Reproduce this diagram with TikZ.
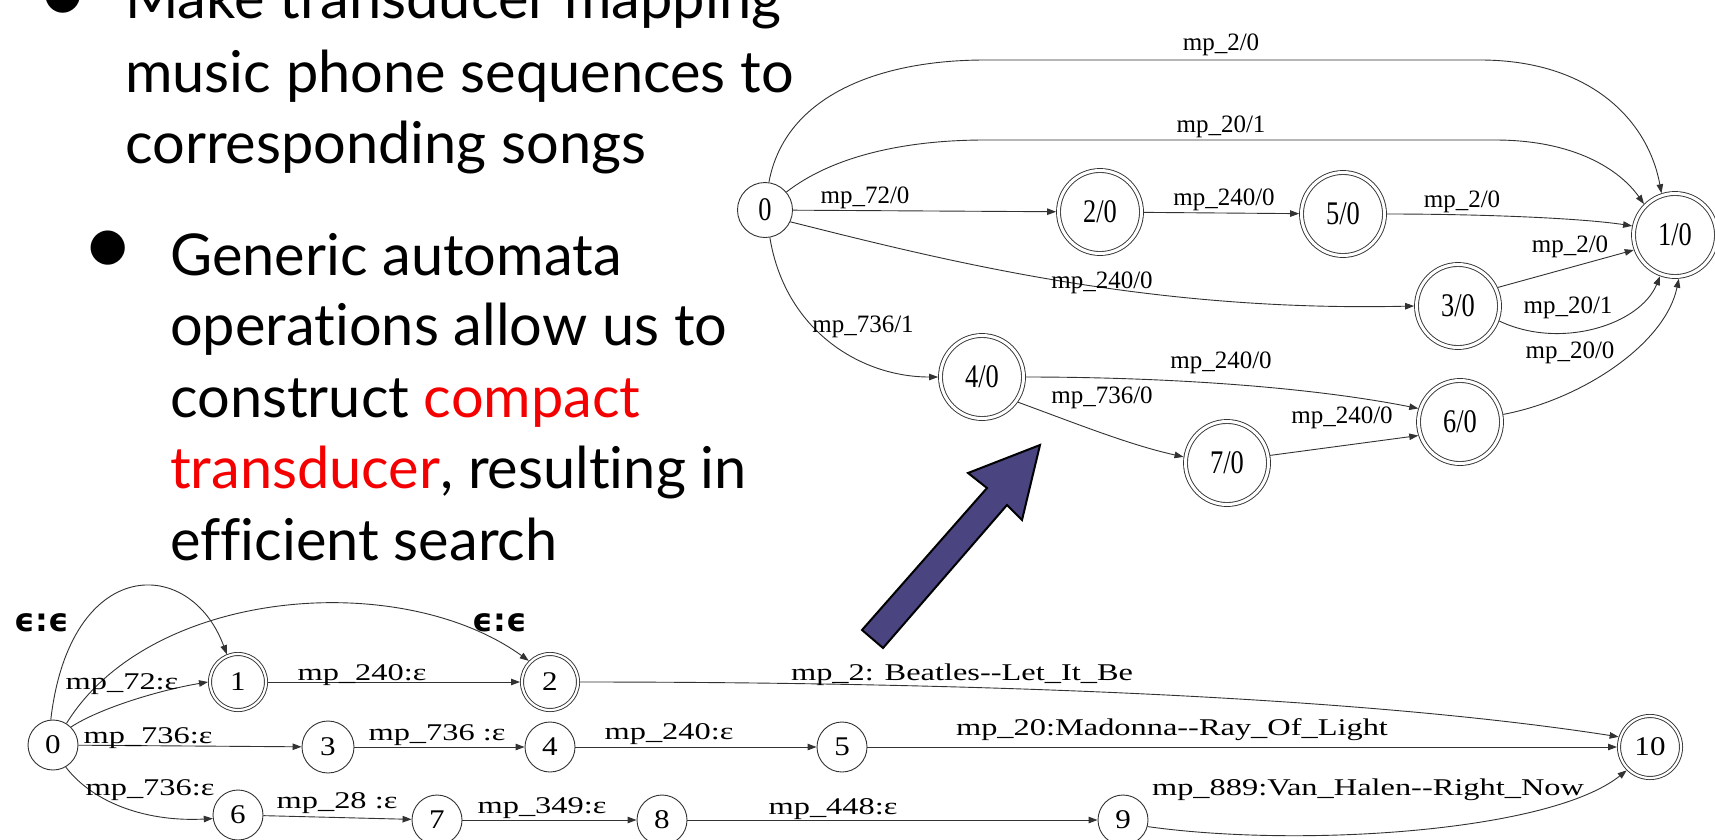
\documentclass[tikz,border=0pt]{standalone}
\usepackage{fontspec}
\usepackage{graphicx}
\setmainfont{Liberation Serif}
\newfontfamily\slidefont{Lato}[Ligatures={NoCommon}]
\newfontfamily\epsfont{DejaVu Sans}
\usetikzlibrary{arrows.meta}
\definecolor{edgecol}{RGB}{50,50,50}
\definecolor{arrowfill}{RGB}{74,68,128}
\definecolor{slidered}{RGB}{245,0,0}
\newcommand\toplab[1]{\scalebox{0.8}[1]{#1}}
\newcommand\botlab[1]{\scalebox{1.35}[1]{#1}}
\newcommand\botnum[1]{\scalebox{1.15}[1]{#1}}
\newcommand\dblhyph{\mbox{-}\mbox{-}}
\begin{document}
\begin{tikzpicture}[x=1pt,y=-1pt,
  tstate/.style={circle,draw=edgecol,line width=0.9pt,fill=white,inner sep=0pt,minimum size=55pt,font=\fontsize{33}{33}\selectfont},
  tacc/.style={tstate,minimum size=83pt,double=white,double distance=3pt,outer sep=2.4pt},
  bstate/.style={circle,draw=edgecol,line width=0.9pt,fill=white,inner sep=0pt,minimum size=50pt,font=\fontsize{27}{27}\selectfont},
  bacc/.style={bstate,minimum size=56pt,double=white,double distance=2.2pt,outer sep=2pt},
  tedge/.style={draw=edgecol,line width=0.9pt,-{Triangle[length=9pt,width=6.5pt]}},
  bedge/.style={draw=edgecol,line width=0.9pt,-{Triangle[length=9pt,width=6.5pt]}},
  tlabel/.style={inner sep=0pt,font=\fontsize{25}{25}\selectfont},
  blabel/.style={inner sep=0pt,font=\fontsize{24}{24}\selectfont},
  epslabel/.style={inner sep=0pt,font=\epsfont\bfseries\fontsize{32}{32}\selectfont},
  slide/.style={anchor=base west,inner sep=0pt,font=\slidefont\fontsize{57.7}{71}\selectfont},
  bullet/.style={anchor=center,inner sep=0pt,font=\slidefont\fontsize{92}{92}\selectfont},
  blockarrow/.style={draw=black,line width=2pt,fill=arrowfill,line join=miter}
]
\useasboundingbox (0,0) rectangle (1715,839);
\clip (0,0) rectangle (1715,839);
\fill[white] (0,0) rectangle (1715,839);

% ---------- slide text ----------
\node[bullet] (b1) at (63,1) {•};
\node[slide] (s1) at (125,18) {Make transducer mapping};
\node[slide] (s2) at (125,92) {music phone sequences to};
\node[slide] (s3) at (125,163) {corresponding songs};
\node[bullet] (b2) at (108,253) {•};
\node[slide] (s4) at (170,275) {Generic automata};
\node[slide] (s5) at (170,345) {operations allow us to};
\node[slide] (s6) at (170,417) {construct {\color{slidered}compact}};
\node[slide] (s7) at (170,488) {{\color{slidered}transducer}, resulting in};
\node[slide] (s8) at (170,560) {efficient search};

% ---------- top (compact) transducer ----------
\node[tstate] (T0) at (765,210) {\toplab{0}};
\node[tacc] (T2) at (1100,212) {\toplab{2/0}};
\node[tacc] (T5) at (1343,214) {\toplab{5/0}};
\node[tacc] (T1) at (1675,235) {\toplab{1/0}};
\node[tacc] (T3) at (1458,306) {\toplab{3/0}};
\node[tacc] (T4) at (982,377) {\toplab{4/0}};
\node[tacc] (T6) at (1460,422) {\toplab{6/0}};
\node[tacc] (T7) at (1227,463) {\toplab{7/0}};

\draw[tedge] (T0.82) .. controls (785,95) and (880,60) .. (985,60) -- (1480,60) .. controls (1590,60) and (1648,120) .. (T1.108);
\draw[tedge] (T0.40) .. controls (830,158) and (900,140) .. (985,140) -- (1495,140) .. controls (1575,140) and (1620,170) .. (T1.135);
\draw[tedge] (T0) -- (T2);
\draw[tedge] (T2) -- (T5);
\draw[tedge] (T5.east) .. controls (1480,214) and (1580,218) .. (T1.168);
\draw[tedge] (T0.-25) .. controls (950,262) and (1150,312) .. (T3.west);
\draw[tedge] (T0.-80) .. controls (785,330) and (860,377) .. (T4.west);
\draw[tedge] (T4.east) .. controls (1150,377) and (1300,385) .. (T6.162);
\draw[tedge] (T4.-35) .. controls (1080,425) and (1130,445) .. (T7.172);
\draw[tedge] (T7.10) -- (T6.198);
\draw[tedge] (T6.10) .. controls (1580,400) and (1665,345) .. (T1.-85);
\draw[tedge] (T3.25) -- (T1.200);
\draw[tedge] (T3.-20) .. controls (1560,350) and (1640,325) .. (T1.-110);

\node[tlabel] (lt1) at (1221,45) {mp\_2/0};
\node[tlabel] (lt2) at (1221,127) {mp\_20/1};
\node[tlabel] (lt3) at (865,198) {mp\_72/0};
\node[tlabel] (lt4) at (1224,200) {mp\_240/0};
\node[tlabel] (lt5) at (1462,202) {mp\_2/0};
\node[tlabel] (lt6) at (1570,247) {mp\_2/0};
\node[tlabel] (lt7) at (1102,283) {mp\_240/0};
\node[tlabel] (lt8) at (1568,308) {mp\_20/1};
\node[tlabel] (lt9) at (863,327) {mp\_736/1};
\node[tlabel] (lt10) at (1570,353) {mp\_20/0};
\node[tlabel] (lt11) at (1221,363) {mp\_240/0};
\node[tlabel] (lt12) at (1102,398) {mp\_736/0};
\node[tlabel] (lt13) at (1342,418) {mp\_240/0};

% ---------- block arrow ----------
\draw[blockarrow] (1040,445) -- (968,473) -- (987,488) -- (862,630) -- (883,648) -- (1007,505) -- (1022,520) -- cycle;

% ---------- bottom (original) transducer ----------
\node[bstate] (B0) at (53,745) {\botnum{0}};
\node[bacc] (B1) at (238,682) {\botnum{1}};
\node[bacc] (B2) at (550,682) {\botnum{2}};
\node[bstate,minimum size=52pt] (B3) at (328,747) {\botnum{3}};
\node[bstate] (B4) at (550,747) {\botnum{4}};
\node[bstate] (B5) at (842,747) {\botnum{5}};
\node[bstate] (B6) at (238,815) {\botnum{6}};
\node[bstate] (B7) at (437,820) {\botnum{7}};
\node[bstate] (B8) at (662,820) {\botnum{8}};
\node[bstate] (B9) at (1123,820) {\botnum{9}};
\node[bacc,minimum size=62pt] (B10) at (1650,747) {\botnum{10}};

\draw[bedge] (B0.95) .. controls (70,555) and (190,555) .. (B1.112);
\draw[bedge] (B0.58) .. controls (150,588) and (400,568) .. (B2.135);
\draw[bedge] (B0.45) .. controls (100,708) and (160,690) .. (B1.west);
\draw[bedge] (B0) -- (B3);
\draw[bedge] (B3) -- (B4);
\draw[bedge] (B4) -- (B5);
\draw[bedge] (B5) -- (B10);
\draw[bedge] (B1) -- (B2);
\draw[bedge] (B2.east) .. controls (950,682) and (1350,695) .. (B10.162);
\draw[bedge] (B0.-60) .. controls (95,805) and (150,822) .. (B6.188);
\draw[bedge] (B6) -- (B7);
\draw[bedge] (B7) -- (B8);
\draw[bedge] (B8) -- (B9);
\draw[bedge] (B9.-15) .. controls (1300,848) and (1550,832) .. (B10.-135);

\node[epslabel] (le1) at (42,623) {ϵ:ϵ};
\node[epslabel] (le2) at (500,623) {ϵ:ϵ};
\node[blabel] (lb1) at (122,684) {\botlab{mp\_72:ε}};
\node[blabel] (lb2) at (362,675) {\botlab{mp\_240:ε}};
\node[blabel] (lb3) at (148,738) {\botlab{mp\_736:ε}};
\node[blabel] (lb4) at (437,735) {\botlab{mp\_736 :ε}};
\node[blabel] (lb5) at (669,734) {\botlab{mp\_240:ε}};
\node[blabel] (lb6) at (962,675) {\botlab{mp\_2: Beatles\dblhyph Let\_It\_Be}};
\node[blabel] (lb7) at (1172,730) {\botlab{mp\_20:Madonna\dblhyph Ray\_Of\_Light}};
\node[blabel] (lb8) at (150,790) {\botlab{mp\_736:ε}};
\node[blabel] (lb9) at (337,803) {\botlab{mp\_28 :ε}};
\node[blabel] (lb10) at (542,808) {\botlab{mp\_349:ε}};
\node[blabel] (lb11) at (833,809) {\botlab{mp\_448:ε}};
\node[blabel] (lb12) at (1368,790) {\botlab{mp\_889:Van\_Halen\dblhyph Right\_Now}};
\end{tikzpicture}
\end{document}
